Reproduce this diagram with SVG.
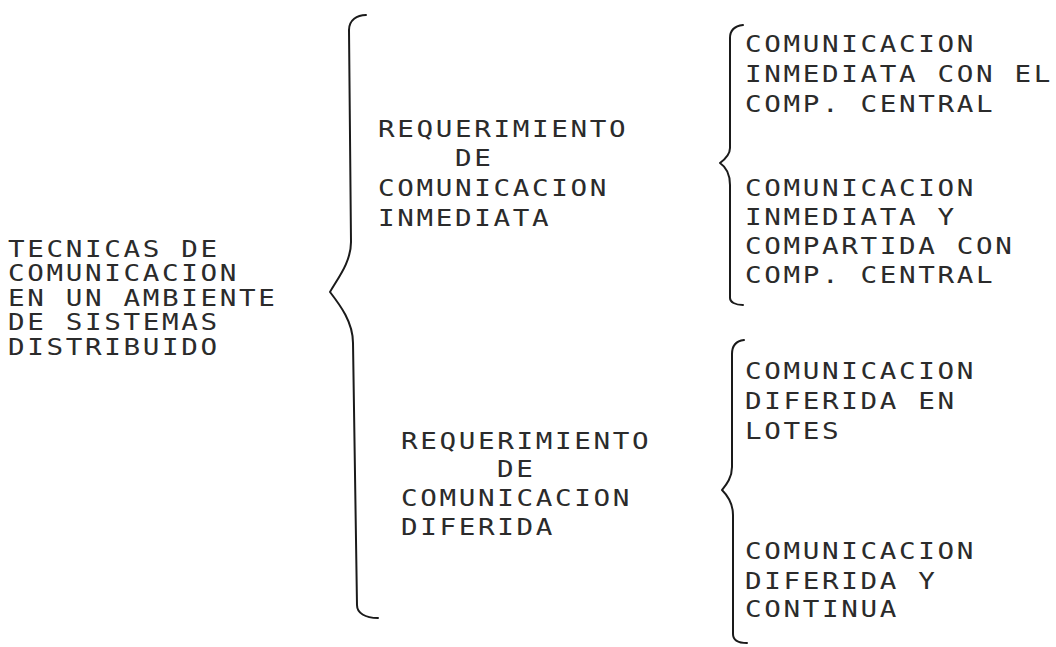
<svg xmlns="http://www.w3.org/2000/svg" width="1056" height="647" viewBox="0 0 1056 647">
<style>
.t{font-family:"DejaVu Sans Mono","Liberation Mono",monospace;font-size:23px;fill:#2b2b2b;letter-spacing:2.2px}
.b{fill:none;stroke:#1a1a1a;stroke-width:2;stroke-linecap:round;stroke-linejoin:round}
</style>
<rect width="1056" height="647" fill="#ffffff"/>
<g id="connectors">
<path class="b" d="M366,15 C357,15 349,20 349,30 L351,242 C351,262 338,278 330,292 C340,305 353,322 353,343 L357,605 C357,613 365,618 378,618"/>
<path class="b" d="M743,25 C735,26 730,30 730,38 L730,148 C730,155 724,160 720,163 C726,167 730,175 730,185 L730,298 C730,302 735,305 743,305"/>
<path class="b" d="M744,340 C736,341 732,346 732,354 L732,467 C732,478 726,485 722,490 C728,496 733,505 733,515 L733,634 C733,640 738,643 747,643"/>
</g>
<g id="root">
<text class="t" transform="translate(8,256.5) scale(1.2,1)">TECNICAS DE</text>
<text class="t" transform="translate(8,281) scale(1.2,1)">COMUNICACION</text>
<text class="t" transform="translate(8,305.5) scale(1.2,1)">EN UN AMBIENTE</text>
<text class="t" transform="translate(8,330) scale(1.2,1)">DE SISTEMAS</text>
<text class="t" transform="translate(8,354.5) scale(1.2,1)">DISTRIBUIDO</text>
</g>
<g id="req-inmediata">
<text class="t" transform="translate(378,136.5) scale(1.2,1)">REQUERIMIENTO</text>
<text class="t" transform="translate(455,165.5) scale(1.2,1)">DE</text>
<text class="t" transform="translate(378,195.5) scale(1.2,1)">COMUNICACION</text>
<text class="t" transform="translate(378,225.5) scale(1.2,1)">INMEDIATA</text>
</g>
<g id="req-diferida">
<text class="t" transform="translate(401,448.5) scale(1.2,1)">REQUERIMIENTO</text>
<text class="t" transform="translate(497,476.5) scale(1.2,1)">DE</text>
<text class="t" transform="translate(401,505.5) scale(1.2,1)">COMUNICACION</text>
<text class="t" transform="translate(401,534.5) scale(1.2,1)">DIFERIDA</text>
</g>
<g id="inm-central">
<text class="t" transform="translate(745,51.5) scale(1.2,1)">COMUNICACION</text>
<text class="t" transform="translate(745,81.5) scale(1.2,1)">INMEDIATA CON EL</text>
<text class="t" transform="translate(745,111.5) scale(1.2,1)">COMP. CENTRAL</text>
</g>
<g id="inm-compartida">
<text class="t" transform="translate(745,195.5) scale(1.2,1)">COMUNICACION</text>
<text class="t" transform="translate(745,224.5) scale(1.2,1)">INMEDIATA Y</text>
<text class="t" transform="translate(745,253.5) scale(1.2,1)">COMPARTIDA CON</text>
<text class="t" transform="translate(745,282.5) scale(1.2,1)">COMP. CENTRAL</text>
</g>
<g id="dif-lotes">
<text class="t" transform="translate(745,378.5) scale(1.2,1)">COMUNICACION</text>
<text class="t" transform="translate(745,408.5) scale(1.2,1)">DIFERIDA EN</text>
<text class="t" transform="translate(745,438.5) scale(1.2,1)">LOTES</text>
</g>
<g id="dif-continua">
<text class="t" transform="translate(745,558.5) scale(1.2,1)">COMUNICACION</text>
<text class="t" transform="translate(745,588.5) scale(1.2,1)">DIFERIDA Y</text>
<text class="t" transform="translate(745,616.5) scale(1.2,1)">CONTINUA</text>
</g>
</svg>
